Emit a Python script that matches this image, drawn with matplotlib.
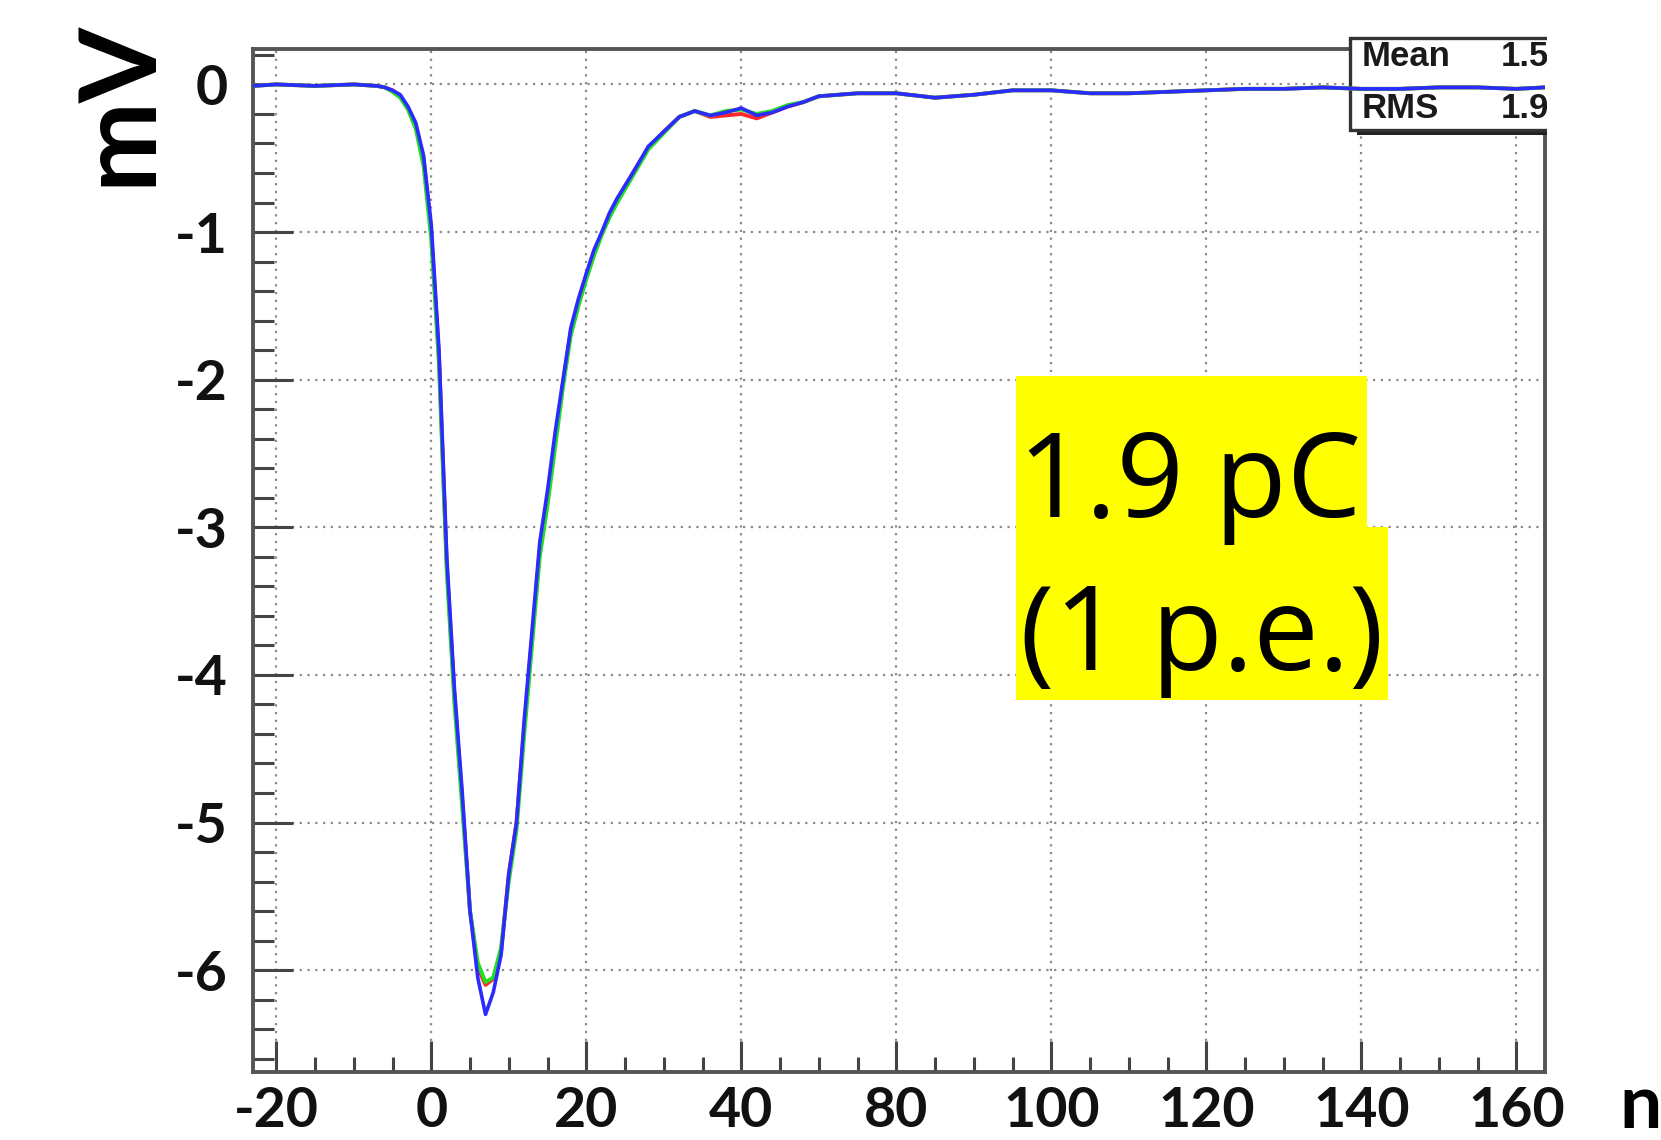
import matplotlib
matplotlib.use('Agg')
import matplotlib.pyplot as plt
from matplotlib.patches import Rectangle
from matplotlib.ticker import MultipleLocator
from matplotlib.transforms import Bbox, TransformedBbox

# ---------------- data ----------------
time_ns = [-23, -20, -15, -10, -7, -6, -5, -4, -3, -2, -1, 0, 1, 2, 3, 4, 5, 6, 7, 8, 9,
           10, 11, 12, 13, 14, 15, 16, 17, 18, 19, 20, 21, 22, 23, 24, 26, 28, 30, 32, 34,
           36, 38, 40, 42, 44, 46, 48, 50, 55, 60, 65, 70, 75, 80, 85, 90, 95, 100, 105,
           110, 115, 120, 125, 130, 135, 140, 143.7]
blue_mv = [-0.01, 0.0, -0.01, 0.0, -0.01, -0.02, -0.04, -0.07, -0.15, -0.26, -0.48, -0.95,
           -1.8, -3.2, -4.1, -4.8, -5.6, -6.05, -6.3, -6.15, -5.9,
           -5.35, -5.0, -4.3, -3.7, -3.1, -2.75, -2.35, -2.0, -1.65, -1.45, -1.28, -1.12, -1.0,
           -0.87, -0.77, -0.6, -0.42, -0.32, -0.22, -0.18,
           -0.21, -0.19, -0.16, -0.21, -0.19, -0.15, -0.12, -0.08, -0.06, -0.06, -0.09, -0.07,
           -0.04, -0.04, -0.06, -0.06, -0.05, -0.04, -0.03,
           -0.03, -0.02, -0.03, -0.03, -0.02, -0.02, -0.03, -0.02]
green_mv = [-0.01, 0.0, -0.01, 0.0, -0.01, -0.02, -0.05, -0.09, -0.17, -0.3, -0.55, -1.05,
            -1.9, -3.3, -4.2, -4.9, -5.6, -5.95, -6.08, -6.05, -5.85,
            -5.4, -5.05, -4.4, -3.8, -3.2, -2.85, -2.45, -2.05, -1.7, -1.5, -1.32, -1.16, -1.02,
            -0.9, -0.8, -0.62, -0.44, -0.33, -0.22, -0.18,
            -0.21, -0.18, -0.17, -0.2, -0.18, -0.14, -0.12, -0.08, -0.06, -0.06, -0.09, -0.07,
            -0.04, -0.04, -0.06, -0.06, -0.05, -0.04, -0.03,
            -0.03, -0.02, -0.03, -0.03, -0.02, -0.02, -0.03, -0.02]
red_mv = [-0.01, 0.0, -0.01, 0.0, -0.01, -0.02, -0.04, -0.08, -0.16, -0.28, -0.5, -1.0,
          -1.85, -3.25, -4.15, -4.85, -5.6, -5.98, -6.1, -6.06, -5.88,
          -5.35, -5.0, -4.35, -3.75, -3.15, -2.8, -2.4, -2.02, -1.67, -1.47, -1.3, -1.14,
          -1.01, -0.88, -0.78, -0.6, -0.43, -0.32, -0.22, -0.18,
          -0.22, -0.21, -0.2, -0.23, -0.19, -0.15, -0.12, -0.08, -0.06, -0.06, -0.09, -0.07,
          -0.04, -0.04, -0.06, -0.06, -0.05, -0.04, -0.03,
          -0.03, -0.02, -0.03, -0.03, -0.02, -0.02, -0.03, -0.02]

x_tick_pos = [-20, 0, 20, 40, 60, 80, 100, 120, 140]
x_tick_labels = ['-20', '0', '20', '40', '80', '100', '120', '140', '160']
y_tick_pos = [-6, -5, -4, -3, -2, -1, 0]
y_tick_labels = ['-6', '-5', '-4', '-3', '-2', '-1', '0']
stats_names = ['Mean', 'RMS']
stats_values = ['1.5', '1.9']
note_lines = ['1.9 pC', '(1 p.e.)']
y_label = 'mV'
x_label = 'n'

# ---------------- figure ----------------
W, H = 1661, 1140
fig = plt.figure(figsize=(W / 100, H / 100), dpi=100)


def fx(px):
    return px / W


def fy(py):
    return 1 - py / H


ax = fig.add_axes([fx(253), fy(1072), fx(1545) - fx(253), fy(49) - fy(1072)])

ax.plot(time_ns, red_mv, color='#ff2a2a', lw=2.8, zorder=3.0)
ax.plot(time_ns, green_mv, color='#22dd22', lw=2.8, zorder=3.1)
ax.plot(time_ns, blue_mv, color='#2b2bff', lw=2.6, zorder=3.2)

ax.set_xlim(-23, 143.7)
ax.set_ylim(-6.69, 0.24)

ax.set_xticks(x_tick_pos)
ax.set_xticklabels(x_tick_labels)
ax.set_yticks(y_tick_pos)
ax.set_yticklabels(y_tick_labels)
ax.xaxis.set_minor_locator(MultipleLocator(5))
ax.yaxis.set_minor_locator(MultipleLocator(0.2))

ax.tick_params(which='both', direction='in', top=False, right=False,
               color='#444444', width=2.2)
ax.tick_params(axis='x', which='major', length=22, pad=10)
ax.tick_params(axis='x', which='minor', length=11)
ax.tick_params(axis='y', which='major', length=29, pad=18)
ax.tick_params(axis='y', which='minor', length=15)

for lbl in ax.get_xticklabels() + ax.get_yticklabels():
    lbl.set_fontfamily(['Lato', 'DejaVu Sans'])
    lbl.set_fontweight('bold')
    lbl.set_fontsize(40)
    lbl.set_color('#111111')

ax.grid(True, which='major', color='#8a8a8a', linestyle=(0, (1, 2.5)), lw=1.6)

for s in ax.spines.values():
    s.set_color('#555555')
    s.set_linewidth(2.8)

# yellow highlighted annotation
clip_bb = TransformedBbox(Bbox.from_extents(0, 0, fx(1547), 1), fig.transFigure)

y1 = Rectangle((fx(1016), fy(527)), fx(1367) - fx(1016), fy(376) - fy(527),
               transform=fig.transFigure, facecolor='#ffff00', edgecolor='none', zorder=2.0)
y2 = Rectangle((fx(1016), fy(700)), fx(1388) - fx(1016), fy(527) - fy(700),
               transform=fig.transFigure, facecolor='#ffff00', edgecolor='none', zorder=2.0)
for r in (y1, y2):
    ax.add_patch(r)
    r.set_clip_path(None)
    r.set_clip_on(False)

fig.text(fx(1018), fy(517), note_lines[0], fontsize=85, family=['Open Sans', 'DejaVu Sans'],
         ha='left', va='baseline', color='black')
fig.text(fx(1020), fy(670), note_lines[1], fontsize=84, family=['Open Sans', 'DejaVu Sans'],
         ha='left', va='baseline', color='black')

# stats box (cut at the right edge of the frame)
shadow = Rectangle((fx(1357), fy(135)), fx(1720) - fx(1357), fy(43) - fy(135),
                   transform=fig.transFigure, facecolor='#222222', edgecolor='none', zorder=2.55)
box = Rectangle((fx(1350), fy(130)), fx(1720) - fx(1350), fy(38) - fy(130),
                transform=fig.transFigure, facecolor='white', edgecolor='#333333',
                lw=2.4, zorder=2.6)
for r in (shadow, box):
    ax.add_patch(r)
    r.set_clip_path(None)
    r.set_clip_on(True)
    r.set_clip_box(clip_bb)

for name, val, base in zip(stats_names, stats_values, [66, 118]):
    t1 = ax.text(fx(1362), fy(base), name, transform=fig.transFigure, fontsize=25,
                 fontweight='bold', family=['Liberation Sans', 'DejaVu Sans'],
                 ha='left', va='baseline', color='#1a1a1a', zorder=2.7)
    t2 = ax.text(fx(1501), fy(base), val, transform=fig.transFigure, fontsize=25,
                 fontweight='bold', family=['Liberation Sans', 'DejaVu Sans'],
                 ha='left', va='baseline', color='#1a1a1a', zorder=2.7)
    for t in (t1, t2):
        t.set_clip_on(True)
        t.set_clip_box(clip_bb)

# axis labels
fig.text(fx(119), fy(103), y_label, rotation=90, fontsize=78, fontweight='bold',
         family=['Lato', 'DejaVu Sans'], ha='center', va='center', color='black')
fig.text(fx(1619), fy(1128), x_label, fontsize=54, fontweight='bold',
         family=['Lato', 'DejaVu Sans'], ha='left', va='baseline', color='black')

fig.savefig('out.png', dpi=100, facecolor='white')
